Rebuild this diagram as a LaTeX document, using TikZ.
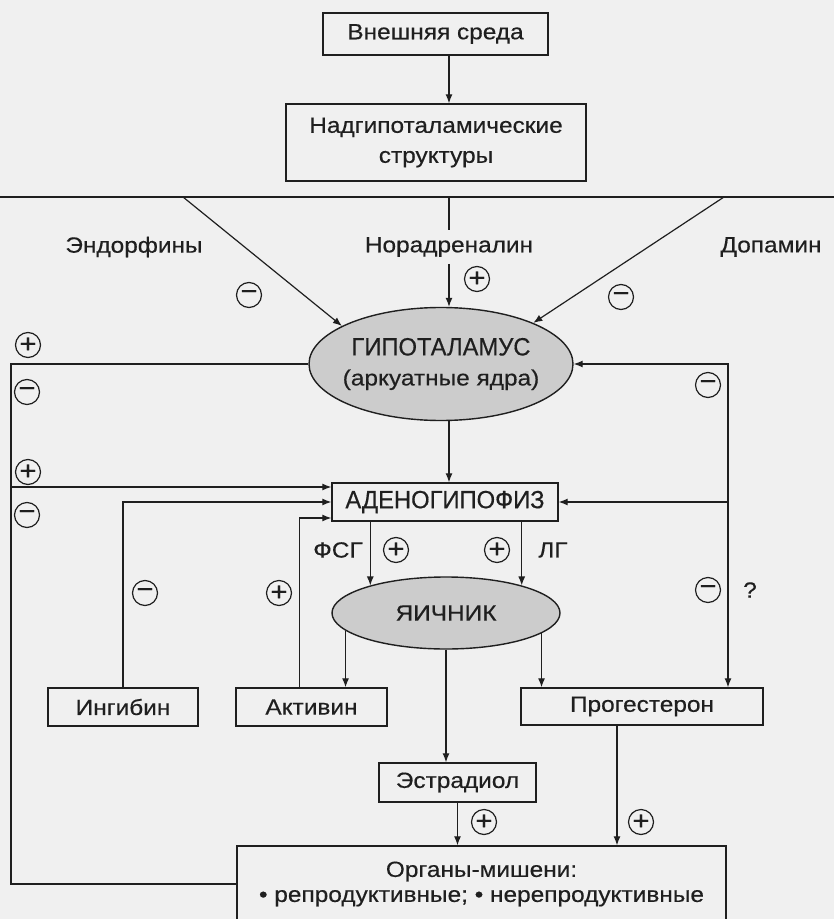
\documentclass[tikz,border=0pt]{standalone}
\usepackage{fontspec}
\setmainfont{Liberation Sans}[FakeStretch=1.11,FakeBold=0.4]
\newfontfamily\capsfont{Liberation Sans}[FakeStretch=0.95,FakeBold=0.4]
\usetikzlibrary{arrows.meta,calc,shapes.geometric}
\definecolor{paper}{gray}{0.94}
\definecolor{ink}{gray}{0.12}
\definecolor{gland}{gray}{0.80}
\tikzset{
	every node/.style={text=ink,font=\fontsize{11}{15}\selectfont},
	box/.style 2 args={draw=ink,line width=0.7pt,inner sep=0pt,minimum width=#1,minimum height=#2,align=center},
	gland/.style 2 args={ellipse,draw=ink,line width=0.7pt,fill=gland,inner ysep=0pt,inner xsep=-12pt,minimum width=#1,minimum height=#2,align=center},
	pm/.style={circle,draw=ink,line width=0.6pt,inner sep=0pt,minimum size=12.5pt,font=\fontsize{13}{13}\selectfont},
	arr/.style={-{Latex[length=4.5pt,width=3.5pt]}},
	link/.style={draw=ink,line width=0.6pt}
}
\newcommand{\bigcaps}{\capsfont\fontsize{12.5}{16}\selectfont}
\begin{document}
\begin{tikzpicture}[x=0.5pt,y=-0.5pt]
	\clip (0,0) rectangle (834,919);
	\fill[paper] (0,0) rectangle (834,919);

	\node [box={112.5pt}{21pt}] (env) at (435.5,34) {Внешняя среда};
	\node [box={150pt}{38.5pt}] (supra) at (436,142.5) {Надгипоталамические\\структуры};
	\node (endo) at (134,247) {Эндорфины};
	\node (nora) at (449,247) {Норадреналин};
	\node (dopa) at (771,247) {Допамин};
	\node [gland={132pt}{56.5pt}] (hyp) at (441,364) {{\bigcaps ГИПОТАЛАМУС}\\(аркуатные ядра)};
	\node [box={113pt}{19pt},font=\bigcaps] (aden) at (445,502) {АДЕНОГИПОФИЗ};
	\node [gland={114pt}{36pt}] (ovary) at (446,613) {ЯИЧНИК};
	\node [box={75pt}{19pt}] (inhib) at (123,707) {Ингибин};
	\node [box={75.5pt}{19pt}] (activ) at (311.5,707) {Активин};
	\node [box={121pt}{18.5pt}] (prog) at (642,706.5) {Прогестерон};
	\node [box={78.5pt}{19.5pt}] (estr) at (457.5,782.5) {Эстрадиол};
	\node [box={244.5pt}{38pt},font=\fontsize{11}{12.5}\selectfont] (organs) at (481.5,884) {Органы-мишени:\\• репродуктивные; • нерепродуктивные};

	\node (fsh) at (338,550) {ФСГ};
	\node (lh) at (553,550) {ЛГ};
	\node (quest) at (750,590) {?};

	\node [pm] (noraP) at (477,279) {+};
	\node [pm] (endoM) at (249,295) {−};
	\node [pm] (dopaM) at (621,297) {−};
	\node [pm] (hypP) at (28,345) {+};
	\node [pm] (hypM) at (27,392) {−};
	\node [pm] (adenP) at (28,472) {+};
	\node [pm] (adenM) at (27,515) {−};
	\node [pm] (progHypM) at (708,385) {−};
	\node [pm] (progAdenM) at (708,590) {−};
	\node [pm] (inhibM) at (145,593) {−};
	\node [pm] (activP) at (279,593) {+};
	\node [pm] (fshP) at (396,550) {+};
	\node [pm] (lhP) at (497,550) {+};
	\node [pm] (estrP) at (484,822) {+};
	\node [pm] (progP) at (641,822) {+};

	\coordinate (trunk) at (449,0);
	\coordinate (sepL) at (0,197);
	\coordinate (sepR) at (834,197);
	\coordinate (endoTop) at (183,197);
	\coordinate (dopaTop) at (724,197);
	\coordinate (outer) at (11,364);
	\coordinate (rightX) at (728,0);
	\coordinate (progX) at (617,0);
	\coordinate (adenA) at ($(aden.west)+(0,-15)$);
	\coordinate (adenC) at ($(aden.west)+(0,16)$);
	\coordinate (activX) at ($(activ.north)+(-12,0)$);

	\draw [link,arr] (env.south -| trunk) -- (supra.north -| trunk);
	\draw [link] (sepL) -- (sepR);
	\draw [link] (sepL -| trunk) -- (nora.north);
	\draw [link,arr] (nora.south) -- (nora.south |- hyp.north);
	\draw [link,arr] (endoTop) -- (hyp.159);
	\draw [link,arr] (dopaTop) -- (hyp.24);
	\draw [link,arr] (hyp.south -| trunk) -- (aden.north -| trunk);
	\draw [link,arr] (aden.south -| ovary.160) -- (ovary.160);
	\draw [link,arr] (aden.south -| ovary.20) -- (ovary.20);
	\draw [link,arr] (ovary.190) -- (ovary.190 |- activ.north);
	\draw [link,arr] (ovary.south) -- (ovary.south |- estr.north);
	\draw [link,arr] (ovary.348) -- (ovary.348 |- prog.north);
	\draw [link,arr] (estr.south) -- (estr.south |- organs.north);
	\draw [link,arr] (prog.south -| progX) -- (organs.north -| progX);

	\draw [link] (organs.west) -| (outer) |- (hyp.west);
	\draw [link,arr] (outer |- adenA) -- (adenA);
	\draw [link,arr] (inhib.north) |- (aden.west);
	\draw [link,arr] (activX) |- (adenC);
	\draw [link,{Latex[length=4.5pt,width=3.5pt]}-{Latex[length=4.5pt,width=3.5pt]}] (hyp.east) -| (rightX |- prog.north);
	\draw [link,arr] (rightX |- aden.east) -- (aden.east);
\end{tikzpicture}
\end{document}
